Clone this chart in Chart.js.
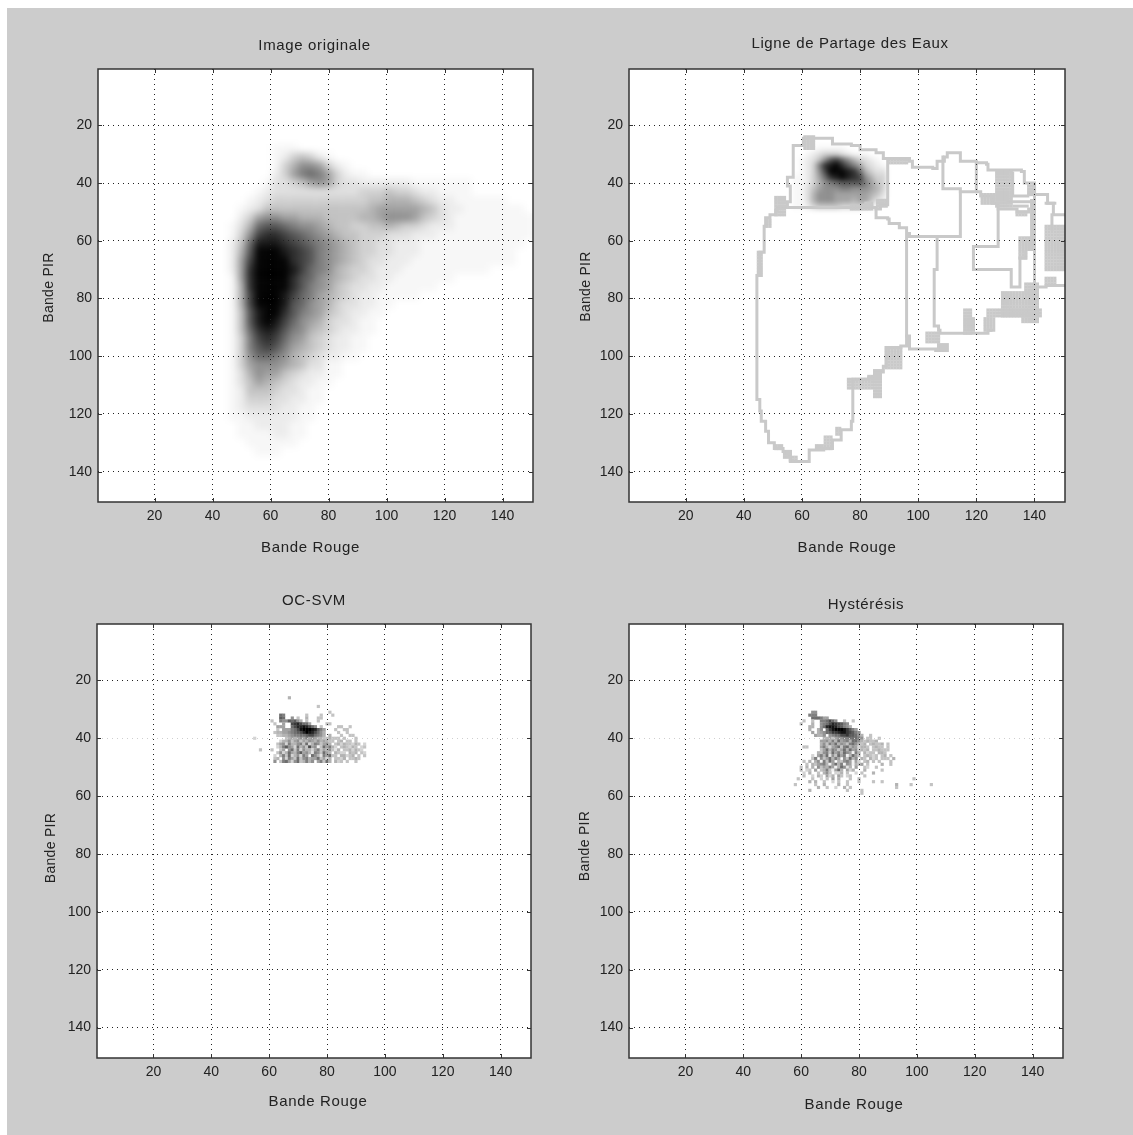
<!DOCTYPE html>
<html lang="fr">
<head>
<meta charset="UTF-8">
<title>Image originale / LPE / OC-SVM / Hystérésis</title>
<script src="https://cdn.jsdelivr.net/npm/chart.js"></script>
<style>
    html, body { margin: 0; padding: 0; background: #fff; }
    #fond { position: absolute; left: 7px; top: 8px; width: 1126px; height: 1127px; background: #cccccc; }
    canvas { position: absolute; }
</style>
</head>
<body>
<div id="fond"></div>
<canvas id="c1"></canvas>
<canvas id="c2"></canvas>
<canvas id="c3"></canvas>
<canvas id="c4"></canvas>

<script>
// tick labels, shared by every panel
const tickValues = [20, 40, 60, 80, 100, 120, 140];

// Image originale : darkness 0-f, one char per 3x3 cell, first cell x=44, first row y=28
const originalRows = [
    '000000111',
    '0000001245421',
    '000000146887421',
    '000000247 9a974211'.replace(' ', ''),
    '00000133457874332222221111111',
    '00001233333333334445443221111',
    '000123444444444445566654322111111',
    '00123555555555555677777653221111111',
    '002478877666555566788875432111111111',
    '013 6abba98876554455654432221111111111'.replace(' ', ''),
    '0148cddcba98765544433322211111111111',
    '025aeeedcba987654433222111111111111',
    '026bfffedcb98765443322211111111111',
    '027cffffdcb98765433222111111111111',
    '027dffffeca98654432221111111111',
    '017dffffdba8765433221111111',
    '016dffffdb987543322111111',
    '016cfffeca9765432211111',
    '016cfffeba8764332211',
    '015beffdb98754322 11'.replace(' ', ''),
    '015befeca876433211',
    '015adedb9865432211',
    '0149cdca875432211',
    '0149bcb9765432211',
    '0148aa9865432211',
    '01478887653311',
    '013687754322 11'.replace(' ', ''),
    '0135765432211',
    '0125554332 11'.replace(' ', ''),
    '012444332211',
    '01233332211',
    '01122222211',
    '0011222211',
    '0011112211',
    '000111111',
    '0000111'
];

// LPE : blob kept inside the basin, one char per 2x2 cell, first cell x=58, first row y=28
const basinRows = [
    '0000111110000000',
    '0012344432111000',
    '012358bca8643210',
    '01249defdb974321',
    '01248cfffeda6433',
    '11247adefedc8644',
    '1124689abbbb9754',
    '1135788899888764',
    '1136888777777653',
    '1136888777677532',
    '1124555544443200'
];

// LPE : watershed lines, [x, y] in band values
const partitionLines = [
    [[60,27],[57,27],[57,38],[55,39],[55,41],[56.5,41],[56,46.5],[55,48.5],[51.5,49.5],[51,51],[49,52],[47.5,55],[47,64],[45.5,64.5],[45.5,72],[44.5,72],[44.5,115],[45.5,119],[46,122.5],[47.5,126],[48.5,130],[50.5,132],[53.5,133],[56,136.5],[62.5,136.5],[62.5,132.5],[67.5,132],[70.5,129],[73.5,125.5],[77,122.5],[77.5,108],[83,107.5],[85,105.5],[88,103.5],[89,97],[94,96.5],[96,96],[96,58.5]],
    [[60.5,27],[60.5,24.5],[70.5,24.5],[70.5,26.5],[77,27],[80,28.5],[85.5,29.5],[88,31.5],[97,32.5],[98,34.5],[105,35],[106.5,32.5],[109,31],[110,29.5],[114.5,29.5],[114.5,32.5],[120,33],[123.5,33.5],[124,35.5],[127.5,35.5],[132,35.5],[135.5,36],[136.5,40],[140,41.5],[140,44],[144.5,47],[146.5,47],[146.5,51],[151,52.5]],
    [[55,48.5],[85.5,49],[87,47.5],[89.5,45],[89.5,31.5]],
    [[85.5,49],[85.5,52],[89.5,52.5],[90,54],[93.5,55.5],[96,57.5],[97,58.5],[107.5,58.5],[114.5,57.5],[114.5,42],[108.5,39.5],[108.5,31]],
    [[106.5,58.5],[106.5,70],[105.5,70.5],[105.5,89.5],[107,91],[107.5,92],[122,92],[124,91],[126,87]],
    [[96,93],[97,97.5],[106,98]],
    [[114.5,43],[119,43],[121.5,44.5],[125.5,47],[127.5,49],[127.5,62],[119,62],[119,70],[132,71.5],[132,76],[134,76],[135,66],[137,64]],
    [[120,33],[120,43]],
    [[132.5,36.5],[132.5,44.5],[137.7,44.5]],
    [[131,46.5],[139,45.5],[139,62]],
    [[127.5,49],[134,50],[138,49]],
    [[133,48],[137.5,48]],
    [[140,45],[140,76]],
    [[146,51],[146,56]],
    [[140,76],[144,75.5],[151,75]],
    [[144,47],[147,47]]
];

// LPE : thick parts of the watershed, [x0, x1, y0, y1] in band values
const partitionBlocks = [
    [61,64,24,28],[51,54,45,51],[48,49,53,55],[45,46,64,72],[127,132,36,48],[122,126,44,47],
    [135,139,59,63],[135,137,64,66],[144,150,55,70],[144,147,73,75],[138,140,41,44],[134,137,50,51],
    [129,141,78,86],[137,141,75,78],[124,142,84,86],[136,141,87,88],[123,125,87,91],[116,118,84,92],
    [119,119,87,91],[103,107,92,95],[107,110,96,98],[89,94,97,104],[85,87,105,114],[76,82,108,111],
    [83,84,107,111],[51,53,131,132],[54,56,133,135],[56,58,135,136],[68,70,128,132],[65,67,131,132],
    [72,73,125,127],[77,84,48,49],[82,84,47,48],[86,89,46,48],[90,96,32,33]
];

// OC-SVM : darkness 0-f, one char per cell, first cell x=54, first row y=26
const svmRows = [
    '00000000000005',
    '',
    '',
    '00000000000000000000000400',
    '',
    '0000000000000000000000000004',
    '00000000009800000004000040004',
    '0000000000a90070400500044',
    '0000000400877a9a75040004',
    '00000000400600bcdb9960000044',
    '000000000666009bddedb97040000044004',
    '0000000004066689befffeda8600040044',
    '0000000045566789abdfedb97500004004',
    '0000000004455678899abb98750500040044',
    '0300000000004565676867655445444040004',
    '00000000003557467465765756544045044040',
    '0000000004673855784935874675045354435403',
    '000000000358a7639574b6714968530454354034',
    '0004000400460794837553684657425044535430',
    '00000000047359658a6752874965054330545043',
    '0000000030584935738609752869440553450404',
    '000000004507386494785669463504435044540',
    '00000000704896379458570684950534040040'
];

// Hystérésis : darkness 0-f, one char per cell, first cell x=56, first row y=31
const hystRows = [
    '00000000770',
    '00000008880',
    '00000000999866',
    '00000400400889b97004004',
    '00004000500789bdcba87',
    '0000000550079deedba875',
    '00000005005709cefffeca86',
    '00000000605679accdeecba87',
    '000000000655707899bbcaa975004',
    '00000000000055646778899987044004',
    '00000000000667585967859975454450',
    '00000000000574869576489754504544504',
    '00000440000685367948957635540454404',
    '00000000000469587469596735450445444',
    '00000000005478496859761850534405540',
    '00000000306859274968159640454340450400',
    '00000000480746958607495705405340444050',
    '00000405057184960547861630450404000400',
    '00000040546785169581761546040000500400',
    '00004050507465861597250600430040000',
    '00004034060458416950635000500000400',
    '00000305004057403350400304000500',
    '00000400305306350640340000400000',
    '00040000400304060500040040000000000000000004',
    '00000005050040030400400040000400400',
    '00400000040050000500400000000000000005000040000004',
    '000000000050040030050400000000000000040',
    '0000000500000000000040000400',
    '0000000000000000000000000400'
];

function cellsFromRows(rows, x0, y0, step) {
    const cells = [];
    rows.forEach((row, j) => {
        for (let i = 0; i < row.length; i++) {
            const d = parseInt(row[i], 16);
            if (d > 0) cells.push({ x: x0 + i * step, y: y0 + j * step, d: d });
        }
    });
    return cells;
}

function cellsFromBlocks(blocks) {
    const cells = [];
    blocks.forEach(b => {
        for (let x = b[0]; x <= b[1]; x++) {
            for (let y = b[2]; y <= b[3]; y++) cells.push({ x: x, y: y });
        }
    });
    return cells;
}

function grey(d, gamma) {
    const g = Math.round(255 * (1 - Math.pow(d / 15, gamma)));
    return 'rgb(' + g + ',' + g + ',' + g + ')';
}

// square markers, sized from the x scale so that one marker covers `units` band values
function cellDataset(cells, units, blur, color) {
    return {
        type: 'scatter',
        data: cells,
        pointStyle: 'rect',
        pointBorderWidth: 0,
        pointHoverRadius: 0,
        pointRadius: c => {
            const s = c.chart.scales.x;
            return Math.abs(s.getPixelForValue(units) - s.getPixelForValue(0)) / Math.SQRT2 + 0.2;
        },
        pointBackgroundColor: color || (c => grey(c.raw ? c.raw.d : 0, blur ? 1.3 : 1.1)),
        blur: blur
    };
}

function lineDataset(points) {
    return {
        type: 'line',
        data: points.map(p => ({ x: p[0], y: p[1] })),
        borderColor: '#c9c9c9',
        borderWidth: 3,
        pointRadius: 0,
        stepped: true,
        fill: false,
        borderCapStyle: 'square'
    };
}

// white plot, box around it and the short ticks inside the box
const cadre = {
    id: 'cadre',
    beforeDraw(chart) {
        const a = chart.chartArea, ctx = chart.ctx;
        ctx.fillStyle = '#fff';
        ctx.fillRect(a.left, a.top, a.right - a.left, a.bottom - a.top);
    },
    afterDatasetDraw(chart, args) {
        // smooth the cells of a density image once they are all painted
        const b = chart.data.datasets[args.index].blur;
        if (!b) return;
        const a = chart.chartArea, ctx = chart.ctx, w = a.right - a.left, h = a.bottom - a.top;
        ctx.save();
        ctx.beginPath();
        ctx.rect(a.left, a.top, w, h);
        ctx.clip();
        ctx.filter = 'blur(' + b + 'px)';
        ctx.drawImage(ctx.canvas, a.left, a.top, w, h, a.left, a.top, w, h);
        ctx.restore();
    },
    afterDraw(chart) {
        const a = chart.chartArea, ctx = chart.ctx;
        ctx.save();
        ctx.strokeStyle = '#333';
        ctx.lineWidth = 1;
        ctx.beginPath();
        chart.scales.x.ticks.forEach(t => {
            const p = Math.round(chart.scales.x.getPixelForValue(t.value)) + 0.5;
            ctx.moveTo(p, a.top); ctx.lineTo(p, a.top + 4);
            ctx.moveTo(p, a.bottom); ctx.lineTo(p, a.bottom - 4);
        });
        chart.scales.y.ticks.forEach(t => {
            const p = Math.round(chart.scales.y.getPixelForValue(t.value)) + 0.5;
            ctx.moveTo(a.left, p); ctx.lineTo(a.left + 4, p);
            ctx.moveTo(a.right, p); ctx.lineTo(a.right - 4, p);
        });
        ctx.stroke();
        ctx.lineWidth = 1.5;
        ctx.strokeRect(a.left, a.top, a.right - a.left, a.bottom - a.top);
        ctx.restore();
    }
};

const police = { family: '"Liberation Sans", Arial, sans-serif', size: 14 };
const policeTitre = { family: '"Liberation Sans", Arial, sans-serif', size: 15, weight: 'normal' };

function axis(titre, faintAt, fit, fontTitre) {
    return {
        type: 'linear',
        min: 0.5,
        max: 150.5,
        afterBuildTicks: s => { s.ticks = tickValues.map(v => ({ value: v })); },
        afterFit: fit,
        ticks: { color: '#222', font: police, padding: 6, autoSkip: false, maxRotation: 0 },
        grid: {
            color: c => (c.tick && c.tick.value === faintAt) ? '#cfcfcf' : '#222',
            lineWidth: 1,
            drawTicks: false,
            z: 1
        },
        border: { display: false, dash: [1, 4] },
        title: { display: true, text: titre, color: '#222', font: fontTitre, padding: 0 }
    };
}

// draws a part of the chart shifted by a few pixels, with the wider text of the reference
function decale(obj, method, chart, dx, dy, spacing) {
    const orig = obj[method];
    obj[method] = function () {
        chart.ctx.save();
        chart.ctx.letterSpacing = spacing;
        chart.ctx.translate(dx, dy);
        orig.apply(this, arguments);
        chart.ctx.restore();
    };
}

function panneau(id, opt) {
    const cv = document.getElementById(id);
    const left = opt.box[0] - 60, top = opt.box[1] - 61;
    const w = opt.box[2] + 60 + 30, h = opt.box[3] + 61 + 66;
    cv.style.left = left + 'px';
    cv.style.top = top + 'px';
    cv.width = w;
    cv.height = h;
    const chart = new Chart(cv, {
        type: 'scatter',
        data: { datasets: opt.datasets },
        plugins: [cadre],
        options: {
            responsive: false,
            animation: false,
            layout: { padding: { right: 30 } },
            plugins: {
                legend: { display: false },
                tooltip: { enabled: false },
                title: { display: true, text: opt.titre, color: '#222', font: policeTitre, padding: { top: 29, bottom: 14 } }
            },
            scales: {
                x: axis('Bande Rouge', null, s => { s.height = 66; }, policeTitre),
                y: Object.assign(axis('Bande PIR', opt.faintAt, s => { s.width = 60; }, police), { reverse: true })
            }
        }
    });
    decale(chart.titleBlock, 'draw', chart, opt.shiftTitle[0], opt.shiftTitle[1], '0.65px');
    decale(chart.scales.x, 'drawTitle', chart, opt.shiftX[0], opt.shiftX[1], '0.65px');
    decale(chart.scales.y, 'drawTitle', chart, opt.shiftY[0], opt.shiftY[1], '0.3px');
    chart.draw();
    return chart;
}

panneau('c1', {
    titre: 'Image originale', box: [98, 69, 435, 433], shiftTitle: [29, 0], shiftX: [-5, -11], shiftY: [3, 2],
    datasets: [cellDataset(cellsFromRows(originalRows, 44, 28, 3), 3, 3.5)]
});
panneau('c2', {
    titre: 'Ligne de Partage des Eaux', box: [629, 69, 436, 433], shiftTitle: [33, -2], shiftX: [0, -11], shiftY: [9, 1],
    datasets: [cellDataset(cellsFromBlocks(partitionBlocks), 1, 0, '#c9c9c9')]
        .concat(partitionLines.map(lineDataset))
        .concat([cellDataset(cellsFromRows(basinRows, 58, 28, 2), 2, 2.5)])
});
panneau('c3', {
    titre: 'OC-SVM', box: [97, 624, 434, 434], shiftTitle: [30, 0], shiftX: [4, -13], shiftY: [6, 7], faintAt: 40,
    datasets: [cellDataset(cellsFromRows(svmRows, 54, 26, 1), 1, 0)]
});
panneau('c4', {
    titre: 'Hystérésis', box: [629, 624, 434, 434], shiftTitle: [50, 4], shiftX: [8, -10], shiftY: [8, 5], faintAt: 40,
    datasets: [cellDataset(cellsFromRows(hystRows, 56, 31, 1), 1, 0)]
});
</script>
</body>
</html>
